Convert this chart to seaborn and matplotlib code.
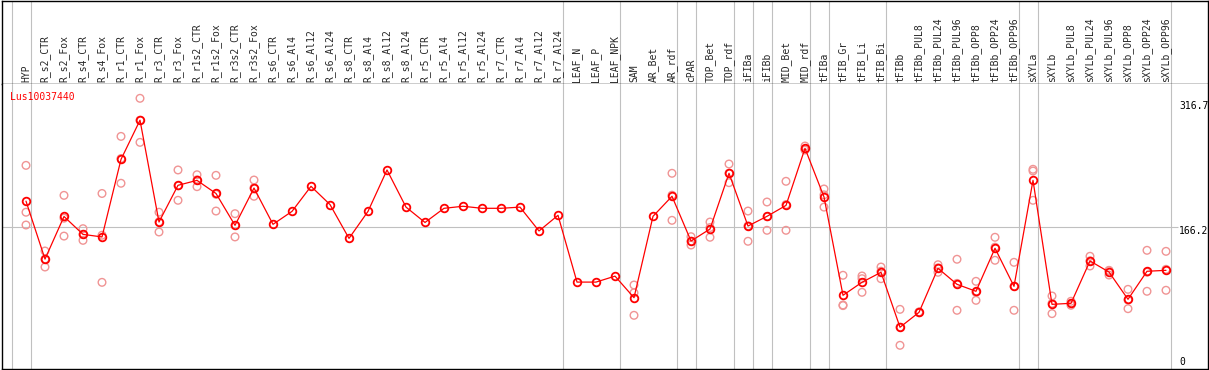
import matplotlib
matplotlib.use("Agg")
import matplotlib.pyplot as plt
import pandas as pd
import seaborn as sns

GENE = "Lus10037440"

SAMPLES = [
    "HYP", "R_s2_CTR", "R_s2_Fox", "R_s4_CTR", "R_s4_Fox", "R_r1_CTR", "R_r1_Fox",
    "R_r3_CTR", "R_r3_Fox", "R_r1s2_CTR", "R_r1s2_Fox", "R_r3s2_CTR", "R_r3s2_Fox",
    "R_s6_CTR", "R_s6_Al4", "R_s6_Al12", "R_s6_Al24", "R_s8_CTR", "R_s8_Al4",
    "R_s8_Al12", "R_s8_Al24", "R_r5_CTR", "R_r5_Al4", "R_r5_Al12", "R_r5_Al24",
    "R_r7_CTR", "R_r7_Al4", "R_r7_Al12", "R_r7_Al24", "LEAF_N", "LEAF_P", "LEAF_NPK",
    "SAM", "AR_Bet", "AR_rdf", "cPAR", "TOP_Bet", "TOP_rdf", "iFIBa", "iFIBb",
    "MID_Bet", "MID_rdf", "tFIBa", "tFIB_Gr", "tFIB_Li", "tFIB_Bi", "tFIBb",
    "tFIBb_PUL8", "tFIBb_PUL24", "tFIBb_PUL96", "tFIBb_OPP8", "tFIBb_OPP24",
    "tFIBb_OPP96", "sXYLa", "sXYLb", "sXYLb_PUL8", "sXYLb_PUL24", "sXYLb_PUL96",
    "sXYLb_OPP8", "sXYLb_OPP24", "sXYLb_OPP96",
]

MEANS = [
    197, 129, 179, 158, 155, 246, 292, 172.5, 215.6, 221.4, 206, 168.6, 212.4,
    169.8, 185, 214.4, 193, 153.3, 185, 233.6, 190, 172, 188.6, 191, 188.6,
    188.6, 190, 162, 180.4, 102, 102, 109, 83.7, 179.2, 202.7, 150.2, 164.3,
    229.7, 167.8, 179.2, 192, 259, 201.9, 86.5, 101.8, 113.5, 49, 66.5, 118.2,
    99.4, 91.2, 141.7, 97, 221.4, 75.9, 77.1, 126.8, 113.8, 81.8, 114.7, 115.8,
]

REPLICATES = [
    [239, 184, 169], [138.5, 119.7, 129], [203.8, 156, 177], [164.7, 151, 158],
    [206, 101.7, 157], [273, 218, 247], [317.7, 266, 292], [184, 160.8, 172.7],
    [233.6, 198, 215], [228, 214, 222], [227.3, 185.4, 205], [182.3, 155, 168.5],
    [221.8, 202.7, 212.7],
    [], [], [], [], [], [], [], [], [], [], [], [], [], [], [], [], [], [], [],
    [98.6, 63, 89.4], [], [229.7, 174.5, 204], [155.3, 145.5, 150],
    [172.5, 154.6, 166], [240.6, 218.7, 229.8], [185.4, 149.9, 168],
    [196, 162.8, 178.8], [220.3, 162.8, 193], [261.7, 257, 258],
    [211.3, 190, 204.4], [110, 75.1, 74.4], [109.2, 90, 106], [119.7, 106, 114.8],
    [70, 27.8, 49], [67, 66, 66.5], [122.4, 113.5, 118.7], [128.8, 68.9, 100.5],
    [102.9, 80.6, 90], [154.6, 127.6, 143], [125.2, 68.9, 97],
    [234.4, 232.4, 198], [85.7, 65, 77], [79.5, 74.8, 77], [132.3, 120.9, 127],
    [115.8, 110.3, 115.3], [93.5, 70.8, 81], [139.3, 91.2, 113.6],
    [138.1, 92.4, 117],
]

# last sample index of each group (vertical separators)
GROUP_ENDS = [-1, 0, 28, 31, 34, 35, 37, 38, 39, 41, 42, 45, 52, 53, 60]
Y_LABELS = [316.7, 166.2, 0]

W, H = 1209, 370
GRID = "#c0c0c0"
REP_COLOR = "#f09494"
FS = 7.0

sns.set_style("white")
plt.rcParams["font.family"] = ["DejaVu Sans Mono", "DejaVu Sans"]

mean_df = pd.DataFrame({"pos": range(len(SAMPLES)), "sample": SAMPLES, "value": MEANS})
rep_df = pd.DataFrame(
    [(i, v) for i, vals in enumerate(REPLICATES) for v in vals],
    columns=["pos", "value"],
)

fig = plt.figure(figsize=(W / 100, H / 100), dpi=100)
left, width = 2 / W, 1206 / W
head_px = 84
ax_head = fig.add_axes([left, (H - head_px) / H, width, (head_px - 0.5) / H])
ax = fig.add_axes([left, 1 / H, width, (369 - head_px) / H])

xmin = -24 / 19
xmax = xmin + 1206 / 19
for a in (ax, ax_head):
    a.set_xlim(xmin, xmax)
    a.set_xticks([])
    a.set_yticks([])
    for sp in a.spines.values():
        sp.set_color("black")
        sp.set_linewidth(1.0)
    for g in GROUP_ENDS:
        a.axvline(g + 0.25, color=GRID, lw=0.8, zorder=0)
ax.spines["top"].set_visible(False)

ax_head.set_ylim(0, 1)
for i, s in enumerate(SAMPLES):
    ax_head.text(i, 0.025, s, rotation=90, ha="center", va="bottom", fontsize=FS)

ax.set_ylim(0, 334.5)
ax.hlines(166.2, xmin, 60.63, color=GRID, lw=0.8, zorder=0)

sns.scatterplot(
    data=rep_df, x="pos", y="value", ax=ax, marker="o", s=30,
    facecolor="none", edgecolor=REP_COLOR, linewidth=1.0, zorder=2,
)
sns.lineplot(
    data=mean_df, x="pos", y="value", ax=ax, color="red", lw=0.9,
    marker="o", markersize=5.5, markerfacecolor="none",
    markeredgecolor="red", markeredgewidth=1.3, zorder=3,
)
ax.set_xlabel("")
ax.set_ylabel("")

lx = (1179 - 26) / 19
offsets = {316.7: (-2, "top"), 166.2: (-4, "center"), 0: (7, "center")}
for v in Y_LABELS:
    dy, va = offsets[v]
    ax.annotate(
        f"{v:g}", xy=(lx, v), xytext=(0, dy), textcoords="offset pixels",
        ha="left", va=va, fontsize=FS, color="black",
    )

fig.text(10 / W, 1 - 97 / H, GENE, color="red", ha="left", va="center", fontsize=FS)

fig.savefig("out.png", dpi=100)
